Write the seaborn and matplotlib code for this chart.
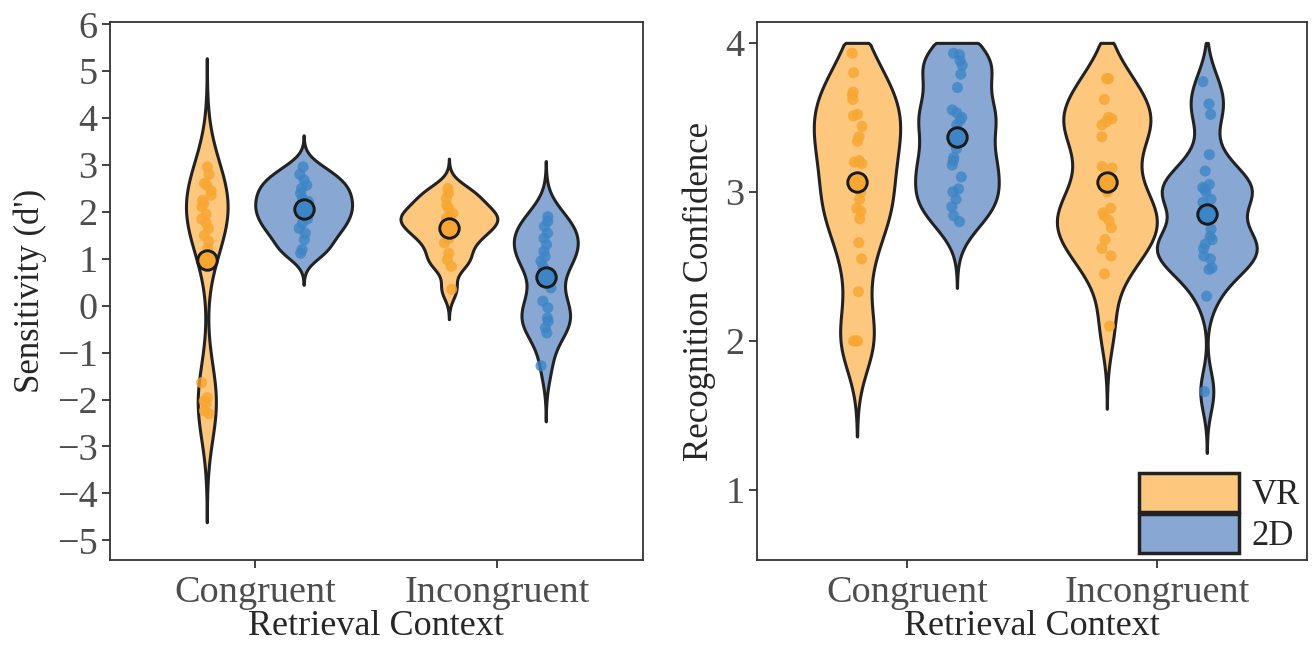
import numpy as np
import pandas as pd
import matplotlib
matplotlib.use("Agg")
import matplotlib.pyplot as plt
from matplotlib.patches import Patch
import seaborn as sns

# valores
contexts = ["Congruent", "Incongruent"]
groups = ["VR", "2D"]

dprime_vr_congruent = [2.96, 2.80, 2.61, 2.57, 2.45, 2.36, 2.25, 2.18, 2.11, 1.95, 1.85,
                       1.76, 1.65, 1.50, 1.37, 1.23, -1.64, -1.96, -2.03, -2.09, -2.24, -2.30]
dprime_2d_congruent = [2.96, 2.80, 2.68, 2.57, 2.50, 2.40, 2.29, 2.22, 2.11, 2.05, 1.95,
                       1.85, 1.76, 1.65, 1.55, 1.41, 1.20, 1.12]
dprime_vr_incongruent = [2.50, 2.40, 2.29, 2.15, 2.08, 1.97, 1.90, 1.87, 1.80, 1.72, 1.65,
                         1.55, 1.44, 1.34, 1.12, 0.98, 0.84, 0.35]
dprime_2d_incongruent = [1.90, 1.80, 1.69, 1.55, 1.44, 1.30, 1.16, 1.05, 0.95, 0.84, 0.38,
                         0.10, -0.04, -0.26, -0.33, -0.47, -0.58, -1.28]

conf_vr_congruent = [3.93, 3.80, 3.67, 3.65, 3.62, 3.52, 3.51, 3.44, 3.37, 3.34, 3.21, 3.20,
                     3.19, 3.00, 2.95, 2.89, 2.87, 2.82, 2.66, 2.55, 2.33, 2.00, 2.00, 2.00]
conf_2d_congruent = [3.93, 3.92, 3.88, 3.85, 3.79, 3.70, 3.55, 3.53, 3.50, 3.48, 3.45, 3.29,
                     3.23, 3.21, 3.18, 3.10, 3.02, 3.00, 2.95, 2.90, 2.84, 2.80]
conf_vr_incongruent = [3.76, 3.76, 3.62, 3.50, 3.49, 3.47, 3.45, 3.37, 3.17, 3.16, 3.00,
                       2.89, 2.86, 2.84, 2.81, 2.76, 2.68, 2.62, 2.57, 2.45, 2.10]
conf_2d_incongruent = [3.74, 3.59, 3.52, 3.25, 3.14, 3.05, 3.03, 3.02, 3.00, 2.95, 2.93,
                       2.75, 2.70, 2.68, 2.65, 2.62, 2.57, 2.55, 2.49, 2.48, 2.30, 1.66]

dprime_ticks = list(range(-5, 7))
conf_ticks = [1, 2, 3, 4]

violin_colors = {"VR": "#FDC77D", "2D": "#88A8D3"}
point_colors = {"VR": "#F7A631", "2D": "#3D85C6"}
edge = "#222222"


def tabla_larga(vr_cong, d2_cong, vr_incong, d2_incong):
    filas = []
    for ctx, grp, vals in [("Congruent", "VR", vr_cong), ("Congruent", "2D", d2_cong),
                           ("Incongruent", "VR", vr_incong), ("Incongruent", "2D", d2_incong)]:
        filas += [(ctx, grp, v) for v in vals]
    return pd.DataFrame(filas, columns=["context", "group", "value"])


def nrd0(kde):
    # ancho de banda tipo R (bw.nrd0), como factor de scipy
    x = kde.dataset[0]
    sd = x.std(ddof=1)
    iqr = np.subtract(*np.percentile(x, [75, 25]))
    h = 0.9 * min(sd, iqr / 1.34) * len(x) ** -0.2
    return h / sd


def panel(ax, df, ylabel, ylim, yticks, tope=None):
    common = dict(data=df, x="context", y="value", hue="group", order=contexts, hue_order=groups, ax=ax)
    sns.violinplot(**common, palette=violin_colors, saturation=1, inner=None, cut=3, bw_method=nrd0,
                   bw_adjust=0.82, linewidth=2.2, linecolor=edge, width=0.8, legend=False)
    # recortar los violines en el maximo de la escala (tapa plana)
    if tope is not None:
        for coll in ax.collections:
            verts = [np.column_stack([p.vertices[:, 0], np.minimum(p.vertices[:, 1], tope)])
                     for p in coll.get_paths()]
            coll.set_verts(verts)
    sns.stripplot(**common, palette=point_colors, dodge=True, jitter=0.045, size=8, alpha=0.8,
                  linewidth=0, legend=False)
    sns.pointplot(**common, palette=point_colors, dodge=0.4, errorbar=None, linestyle="none",
                  marker="o", markersize=14, markeredgewidth=2.1, legend=False)
    for line in ax.lines:
        line.set_markeredgecolor("#1a1a1a")
        line.set_zorder(5)

    ax.set_xlim(-0.6, 1.6)
    ax.set_ylim(*ylim)
    ax.set_yticks(yticks)
    ax.set_xticks([0, 1])
    ax.set_xticklabels(contexts)
    ax.set_xlabel("Retrieval Context", fontsize=26, labelpad=0)
    ax.set_ylabel(ylabel, fontsize=25, labelpad=7)
    ax.tick_params(axis="both", labelsize=27.5, colors="#333333", labelcolor="#4D4D4D",
                   length=6, width=1.3, direction="out", pad=3)
    ax.tick_params(axis="x", pad=5)
    for s in ax.spines.values():
        s.set_visible(True)
        s.set_color("#333333")
        s.set_linewidth(1.3)


sns.set_style("ticks")
plt.rcParams["font.family"] = ["Liberation Serif", "DejaVu Serif"]
plt.rcParams["axes.unicode_minus"] = True
np.random.seed(3)

fig = plt.figure(figsize=(13.12, 6.47), dpi=100)
ax1 = fig.add_axes([0.0838, 0.1345, 0.406, 0.8315])
ax2 = fig.add_axes([0.577, 0.1345, 0.419, 0.8315])

df_d = tabla_larga(dprime_vr_congruent, dprime_2d_congruent, dprime_vr_incongruent, dprime_2d_incongruent)
df_c = tabla_larga(conf_vr_congruent, conf_2d_congruent, conf_vr_incongruent, conf_2d_incongruent)

panel(ax1, df_d, "Sensitivity (d')", (-5.42, 6.05), dprime_ticks)
panel(ax2, df_c, "Recognition Confidence", (0.53, 4.14), conf_ticks, tope=4)

handles = [Patch(facecolor=violin_colors[g], edgecolor=edge, linewidth=2.5, label=g) for g in groups]
ax2.legend(handles=handles, loc="lower right", bbox_to_anchor=(1.0, 0.0), frameon=False,
           fontsize=25, handlelength=2.9, handleheight=1.35, labelspacing=0.05, handletextpad=0.35,
           borderaxespad=0.1, borderpad=0.1)

fig.savefig("out.png", dpi=100)
